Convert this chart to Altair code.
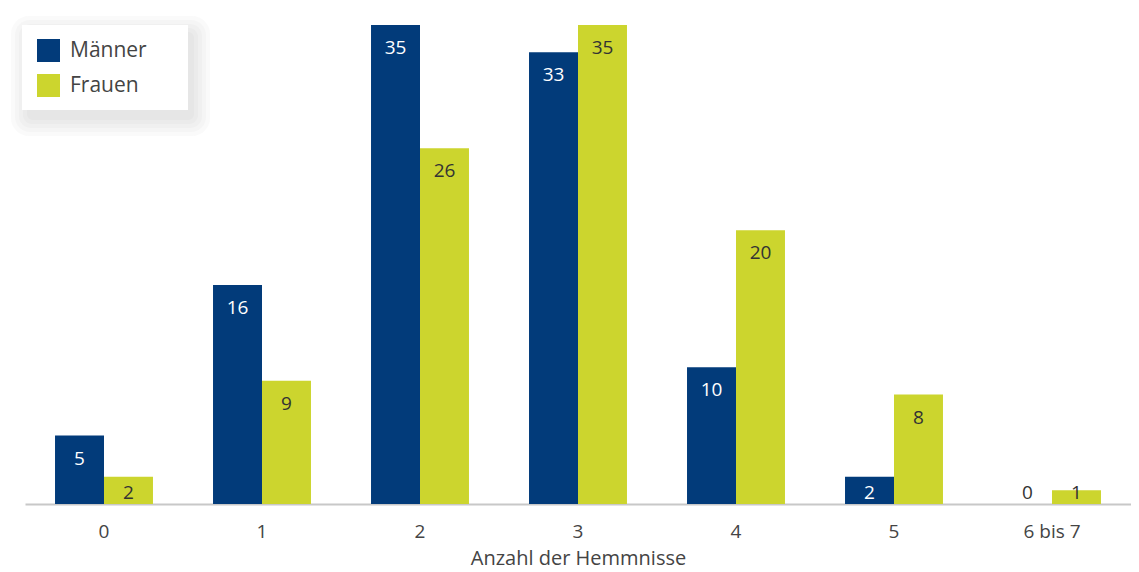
import altair as alt
import pandas as pd

categories = ["0", "1", "2", "3", "4", "5", "6 bis 7"]
maenner = [5, 16, 35, 33, 10, 2, 0]
frauen = [2, 9, 26, 35, 20, 8, 1]
groups = ["Männer", "Frauen"]
colors = ["#023b7a", "#ccd52e"]

rows = []
for c, m, f in zip(categories, maenner, frauen):
    rows.append({"Hemmnisse": c, "Geschlecht": "Männer", "Wert": m})
    rows.append({"Hemmnisse": c, "Geschlecht": "Frauen", "Wert": f})
df = pd.DataFrame(rows)

FONT = "Open Sans"

x = alt.X(
    "Hemmnisse:N",
    sort=categories,
    scale=alt.Scale(paddingInner=0.38, paddingOuter=0.19),
    axis=alt.Axis(
        title="Anzahl der Hemmnisse",
        labelAngle=0,
        ticks=False,
        grid=False,
        domain=True,
        domainColor="#c8c8c8",
        domainWidth=2,
        labelPadding=18,
        labelFontSize=19,
        labelColor="#444444",
        labelFont=FONT,
        titleFont=FONT,
        titleFontSize=20,
        titleFontWeight="normal",
        titleColor="#444444",
        titlePadding=7,
    ),
)
xoff = alt.XOffset("Geschlecht:N", sort=groups)
yscale = alt.Scale(domain=[0, 35], nice=False, zero=True)

# legend box with soft shadow (decoration)
box_df = pd.DataFrame({"k": [0]})
shadows = []
for i in range(5):
    g = 2 + i * 4
    shadows.append(
        alt.Chart(box_df)
        .mark_rect(color="#808080", opacity=0.045, cornerRadius=6 + i * 3)
        .encode(
            x=alt.value(-3 - g + 7),
            x2=alt.value(163 + g + 4),
            y=alt.value(0 - g + 9),
            y2=alt.value(85 + g + 8),
        )
    )
box = (
    alt.Chart(box_df)
    .mark_rect(color="white")
    .encode(x=alt.value(-3), x2=alt.value(163), y=alt.value(0), y2=alt.value(85))
)

bars = alt.Chart(df).mark_bar().encode(
    x=x,
    xOffset=xoff,
    y=alt.Y("Wert:Q", scale=yscale, axis=None),
    color=alt.Color(
        "Geschlecht:N",
        sort=groups,
        scale=alt.Scale(domain=groups, range=colors),
        legend=alt.Legend(
            title=None,
            orient="none",
            legendX=-4,
            legendY=-2,
            symbolType="square",
            symbolSize=529,
            symbolStrokeWidth=0,
            symbolOpacity=1,
            labelFontSize=21,
            labelFont=FONT,
            labelColor="#444444",
            rowPadding=12,
            padding=16,
            labelOffset=10,
        ),
    ),
)

labels = (
    alt.Chart(df)
    .transform_calculate(
        pos="max(datum.Wert - 1.68, 0.8)",
        lc="datum.Geschlecht == 'Männer' && datum.Wert > 0 ? 'white' : '#333333'",
    )
    .mark_text(fontSize=19, font=FONT, baseline="middle", align="center")
    .encode(
        x=x,
        xOffset=xoff,
        y=alt.Y("pos:Q", scale=yscale, axis=None),
        text=alt.Text("Wert:Q"),
        color=alt.Color("lc:N", scale=None, legend=None),
    )
)

chart = (
    alt.layer(*shadows, box, bars, labels)
    .properties(
        width=1106,
        height=479,
        background="white",
        autosize=alt.AutoSizeParams(type="none"),
        padding={"left": 17, "top": 17, "right": 0, "bottom": 66},
    )
    .configure_view(stroke="transparent", strokeWidth=0)
    .configure_axis(grid=False)
)

chart.save("out.html", embed_options={"renderer": "svg", "actions": False})
